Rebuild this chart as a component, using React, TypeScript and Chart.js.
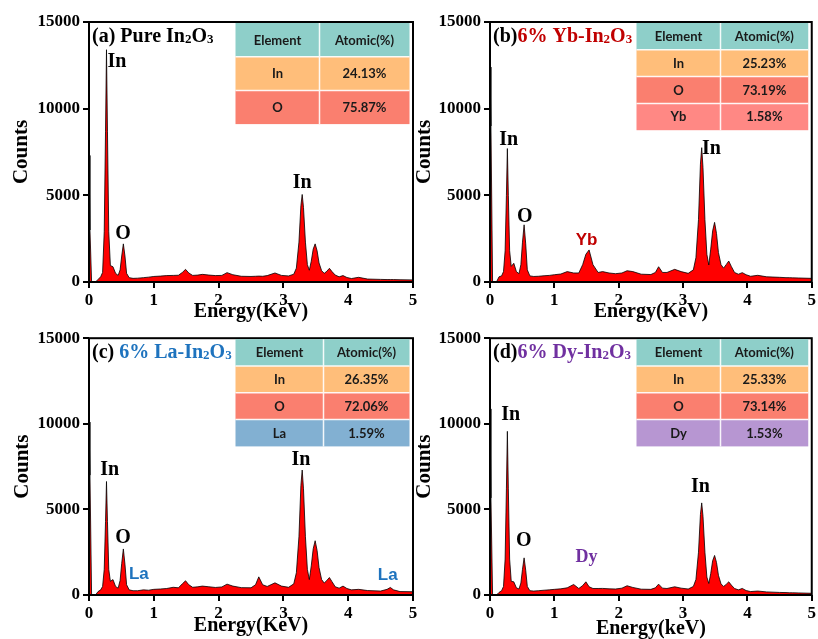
import React, { useEffect, useRef } from "react";
import { Chart, registerables } from "chart.js";
Chart.register(...registerables);

// ---------- data ----------
const energy = [
  0, 0.015, 0.04, 0.1, 0.14, 0.18, 0.21, 0.235, 0.255, 0.27,
  0.285, 0.305, 0.33, 0.37, 0.41, 0.45, 0.48, 0.505, 0.53, 0.555,
  0.58, 0.62, 0.68, 0.75, 0.84, 0.92, 1.0, 1.1, 1.2, 1.3,
  1.38, 1.44, 1.49, 1.54, 1.6, 1.68, 1.75, 1.85, 1.95, 2.05,
  2.13, 2.22, 2.35, 2.5, 2.57, 2.62, 2.68, 2.75, 2.87, 2.97,
  3.08, 3.16, 3.2, 3.24, 3.27, 3.29, 3.31, 3.34, 3.37, 3.4,
  3.43, 3.46, 3.49, 3.52, 3.55, 3.59, 3.63, 3.67, 3.71, 3.75,
  3.8, 3.86, 3.92, 3.98, 4.05, 4.16, 4.3, 4.5, 4.6, 4.65,
  4.7, 4.8, 5.0,
];

const countsPure = [
  7300, 3000, 0, 0, 150, 300, 550, 2900, 8700, 13400,
  8700, 2900, 950, 880, 500, 380, 700, 1500, 2200, 1500,
  500, 250, 210, 220, 250, 280, 320, 340, 370, 380,
  390, 550, 730, 520, 380, 400, 440, 400, 370, 380,
  540, 420, 330, 320, 330, 340, 330, 370, 520, 380,
  350, 450, 800, 2300, 4400, 5050, 4300, 2300, 1000, 680,
  1200, 1900, 2200, 1800, 1100, 650, 500, 620, 790, 600,
  400, 300, 370, 260, 200, 270, 170, 150, 140, 140,
  140, 130, 120,
];

const countsYb = [
  12400, 9000, 0, 0, 300, 350, 600, 1800, 5000, 7700,
  5000, 1800, 900, 1080, 600, 480, 1000, 2300, 3300, 2200,
  700, 350, 320, 330, 360, 380, 420, 460, 600, 520,
  520, 1000, 1600, 1850, 1000, 550, 600, 520, 480, 520,
  650, 600, 450, 430, 550, 880, 550, 550, 730, 600,
  500, 700, 1400, 3600, 6800, 7750, 6600, 3600, 1600, 980,
  1900, 2950, 3440, 2800, 1700, 1000, 800, 1000, 1210, 900,
  550, 450, 540, 420, 330, 385, 300, 270, 250, 250,
  240, 230, 210,
];

const countsLa = [
  10100, 7000, 0, 0, 200, 300, 500, 1500, 4300, 6630,
  4300, 1500, 800, 900, 500, 400, 850, 1850, 2690, 1800,
  600, 300, 250, 250, 300, 280, 330, 350, 380, 450,
  420, 650, 830, 600, 450, 480, 520, 480, 440, 470,
  635, 520, 430, 420, 600, 1060, 600, 500, 710, 520,
  450, 650, 1300, 3400, 6400, 7300, 6200, 3400, 1500, 900,
  1700, 2700, 3170, 2600, 1600, 900, 700, 850, 1020, 780,
  480, 400, 520, 380, 300, 330, 260, 230, 330, 440,
  300, 200, 190,
];

const countsDy = [
  10870, 5670, 0, 0, 150, 250, 500, 2100, 6200, 9560,
  6200, 2100, 800, 770, 420, 350, 700, 1500, 2170, 1450,
  500, 250, 230, 250, 280, 300, 330, 360, 420, 615,
  380, 550, 770, 480, 380, 380, 385, 360, 350, 400,
  540, 440, 340, 330, 420, 635, 400, 380, 480, 400,
  350, 500, 900, 2500, 4700, 5380, 4600, 2500, 1050, 670,
  1250, 2000, 2310, 1900, 1150, 650, 500, 620, 770, 580,
  380, 300, 385, 260, 200, 230, 180, 150, 140, 130,
  130, 120, 100,
];

const xTickValues = [0, 1, 2, 3, 4, 5];
const yTickValues = [0, 5000, 10000, 15000];

const tableHeader = ["Element", "Atomic(%)"];
const tablePure = [["In", "24.13%"], ["O", "75.87%"]];
const tableYb = [["In", "25.23%"], ["O", "73.19%"], ["Yb", "1.58%"]];
const tableLa = [["In", "26.35%"], ["O", "72.06%"], ["La", "1.59%"]];
const tableDy = [["In", "25.33%"], ["O", "73.14%"], ["Dy", "1.53%"]];

// ---------- styles ----------
const SERIF = '"Liberation Serif", "Times New Roman", serif';
const SANS = '"Liberation Sans", Arial, sans-serif';
const TABLE_FONT = 'Lato, "Open Sans", sans-serif';

const C_HEADER = "#8ECFC9";
const C_IN = "#FFBE7A";
const C_O = "#FA7F6F";
const C_YB = "#FF8884";
const C_LA = "#82B0D2";
const C_DY = "#B796D2";

const RED_TXT = "#C00000";
const BLUE_TXT = "#1E73BE";
const PURPLE_TXT = "#7030A0";

type Seg = { t: string; c: string; sub?: boolean };
type Label = { t: string; x: number; y: number; c: string; font: string };

const panels = [
  {
    key: "a", left: 0, top: 0, w: 430, h: 325, yW: 89, padTop: 22, padRight: 17, xH: 43,
    yTitlePad: 11.5, xTitlePad: 3, xTitle: "Energy(KeV)", counts: countsPure,
    title: [
      { t: "(a) Pure In", c: "#000" }, { t: "2", c: "#000", sub: true },
      { t: "O", c: "#000" }, { t: "3", c: "#000", sub: true },
    ] as Seg[],
    rows: tablePure, colors: [C_HEADER, C_IN, C_O], colSplit: 84,
    labels: [
      { t: "In", x: 0.43, y: 12700, c: "#000", font: SERIF },
      { t: "O", x: 0.525, y: 2770, c: "#000", font: SERIF },
      { t: "In", x: 3.29, y: 5710, c: "#000", font: SERIF },
    ] as Label[],
  },
  {
    key: "b", left: 410, top: 0, w: 408, h: 325, yW: 80, padTop: 22, padRight: 4, xH: 43,
    yTitlePad: 4.5, xTitlePad: 3, xTitle: "Energy(KeV)", counts: countsYb,
    title: [
      { t: "(b)", c: "#000" }, { t: "6% Yb-In", c: RED_TXT }, { t: "2", c: RED_TXT, sub: true },
      { t: "O", c: RED_TXT }, { t: "3", c: RED_TXT, sub: true },
    ] as Seg[],
    rows: tableYb, colors: [C_HEADER, C_IN, C_O, C_YB], colSplit: 84,
    labels: [
      { t: "In", x: 0.29, y: 8190, c: "#000", font: SERIF },
      { t: "O", x: 0.54, y: 3750, c: "#000", font: SERIF },
      { t: "Yb", x: 1.5, y: 2420, c: RED_TXT, font: SANS },
      { t: "In", x: 3.44, y: 7670, c: "#000", font: SERIF },
    ] as Label[],
  },
  {
    key: "c", left: 0, top: 325, w: 430, h: 314, yW: 89, padTop: 10, padRight: 17, xH: 44,
    yTitlePad: 12, xTitlePad: 3, xTitle: "Energy(KeV)", counts: countsLa,
    title: [
      { t: "(c) ", c: "#000" }, { t: "6% La-In", c: BLUE_TXT }, { t: "2", c: BLUE_TXT, sub: true },
      { t: "O", c: BLUE_TXT }, { t: "3", c: BLUE_TXT, sub: true },
    ] as Seg[],
    rows: tableLa, colors: [C_HEADER, C_IN, C_O, C_LA], colSplit: 88,
    labels: [
      { t: "In", x: 0.32, y: 7330, c: "#000", font: SERIF },
      { t: "O", x: 0.525, y: 3350, c: "#000", font: SERIF },
      { t: "La", x: 0.77, y: 1210, c: BLUE_TXT, font: SANS },
      { t: "In", x: 3.27, y: 7900, c: "#000", font: SERIF },
      { t: "La", x: 4.61, y: 1150, c: BLUE_TXT, font: SANS },
    ] as Label[],
  },
  {
    key: "d", left: 410, top: 325, w: 408, h: 314, yW: 80, padTop: 10, padRight: 4, xH: 44,
    yTitlePad: 4.5, xTitlePad: 0, xTitle: "Energy(keV)", counts: countsDy,
    title: [
      { t: "(d)", c: "#000" }, { t: "6% Dy-In", c: PURPLE_TXT }, { t: "2", c: PURPLE_TXT, sub: true },
      { t: "O", c: PURPLE_TXT }, { t: "3", c: PURPLE_TXT, sub: true },
    ] as Seg[],
    rows: tableDy, colors: [C_HEADER, C_IN, C_O, C_DY], colSplit: 84,
    labels: [
      { t: "In", x: 0.32, y: 10500, c: "#000", font: SERIF },
      { t: "O", x: 0.525, y: 3170, c: "#000", font: SERIF },
      { t: "Dy", x: 1.5, y: 2190, c: PURPLE_TXT, font: SERIF },
      { t: "In", x: 3.27, y: 6290, c: "#000", font: SERIF },
    ] as Label[],
  },
];

type PanelCfg = (typeof panels)[number];

function drawRich(ctx: CanvasRenderingContext2D, x: number, y: number, segs: Seg[]) {
  let cx = x;
  ctx.textAlign = "left";
  ctx.textBaseline = "alphabetic";
  for (const s of segs) {
    ctx.font = s.sub ? `bold 13px ${SERIF}` : `bold 20px ${SERIF}`;
    ctx.fillStyle = s.c;
    ctx.fillText(s.t, cx, s.sub ? y + 1 : y);
    cx += ctx.measureText(s.t).width;
  }
}

function makePlugin(p: PanelCfg) {
  return {
    id: "decor-" + p.key,
    afterDatasetsDraw(chart: any) {
      const ctx: CanvasRenderingContext2D = chart.ctx;
      const ca = chart.chartArea;
      ctx.save();
      ctx.strokeStyle = "#000";
      ctx.lineWidth = 2;
      ctx.strokeRect(ca.left, ca.top, ca.right - ca.left, ca.bottom - ca.top);
      ctx.restore();
    },
    afterDraw(chart: any) {
      const ctx: CanvasRenderingContext2D = chart.ctx;
      const ca = chart.chartArea;
      const xs = chart.scales.x;
      const ys = chart.scales.y;
      ctx.save();
      // panel title
      drawRich(ctx, ca.left + 3, ca.top + 20, p.title);
      // peak labels
      ctx.textAlign = "center";
      ctx.textBaseline = "middle";
      for (const l of p.labels) {
        ctx.font = l.font === SANS ? `bold 17px ${SANS}` : `bold ${l.t === "Dy" ? 18 : 20}px ${SERIF}`;
        ctx.fillStyle = l.c;
        ctx.fillText(l.t, xs.getPixelForValue(l.x), ys.getPixelForValue(l.y));
      }
      // table
      const rows = [tableHeader, ...p.rows];
      const left = ca.left + 146.5;
      const right = ca.right - 3.5;
      const top = ca.top + 1;
      const rowH = rows.length === 3 ? 33.7 : 26.8;
      const split = left + p.colSplit;
      rows.forEach((r, i) => {
        ctx.fillStyle = p.colors[i];
        ctx.fillRect(left, top + i * rowH, right - left, rowH);
      });
      ctx.strokeStyle = "rgba(255,255,255,0.9)";
      ctx.lineWidth = 1.5;
      ctx.beginPath();
      for (let i = 1; i < rows.length; i++) {
        ctx.moveTo(left, top + i * rowH);
        ctx.lineTo(right, top + i * rowH);
      }
      ctx.moveTo(split, top);
      ctx.lineTo(split, top + rows.length * rowH);
      ctx.stroke();
      ctx.font = `bold 13px ${TABLE_FONT}`;
      ctx.fillStyle = "#1a1a1a";
      ctx.textAlign = "center";
      ctx.textBaseline = "middle";
      rows.forEach((r, i) => {
        const cy = top + i * rowH + rowH / 2 + 0.5;
        ctx.fillText(r[0], (left + split) / 2, cy);
        ctx.fillText(r[1], (split + right) / 2, cy);
      });
      ctx.restore();
    },
  };
}

function Panel({ p }: { p: PanelCfg }) {
  const ref = useRef<HTMLCanvasElement | null>(null);
  useEffect(() => {
    if (!ref.current) return;
    const chart = new Chart(ref.current, {
      type: "line",
      data: {
        datasets: [
          {
            data: energy.map((e, i) => ({ x: e, y: p.counts[i] })),
            borderColor: "#000",
            borderWidth: 0.8,
            backgroundColor: "#FF0000",
            fill: "origin",
            pointRadius: 0,
            tension: 0,
          },
        ],
      },
      options: {
        responsive: false,
        animation: false,
        events: [],
        layout: { padding: { left: 0, top: p.padTop, right: p.padRight, bottom: 0 } },
        plugins: { legend: { display: false }, tooltip: { enabled: false } },
        scales: {
          x: {
            type: "linear",
            min: 0,
            max: 5,
            afterBuildTicks: (s: any) => {
              s.ticks = xTickValues.map((v) => ({ value: v }));
            },
            afterFit: (s: any) => {
              s.height = p.xH;
            },
            ticks: {
              maxRotation: 0,
              autoSkip: false,
              padding: 2,
              color: "#000",
              font: { family: SERIF, size: 17, weight: "bold" },
            },
            grid: { display: true, drawOnChartArea: false, drawTicks: true, tickLength: 6, color: "#000", lineWidth: 2 },
            border: { display: false },
            title: {
              display: true,
              text: p.xTitle,
              color: "#000",
              font: { family: SERIF, size: 20, weight: "bold", lineHeight: 1 },
              padding: { top: 0, bottom: p.xTitlePad },
            },
          },
          y: {
            type: "linear",
            min: 0,
            max: 15000,
            afterBuildTicks: (s: any) => {
              s.ticks = yTickValues.map((v) => ({ value: v }));
            },
            afterFit: (s: any) => {
              s.width = p.yW;
            },
            ticks: {
              padding: 3,
              color: "#000",
              font: { family: SERIF, size: 17, weight: "bold" },
              callback: (v: any) => String(v),
            },
            grid: { display: true, drawOnChartArea: false, drawTicks: true, tickLength: 6, color: "#000", lineWidth: 2 },
            border: { display: false },
            title: {
              display: true,
              text: "Counts",
              color: "#000",
              font: { family: SERIF, size: 21, weight: "bold", lineHeight: 1 },
              padding: { top: p.yTitlePad, bottom: 0 },
            },
          },
        },
      },
      plugins: [makePlugin(p)],
    } as any);
    return () => chart.destroy();
  }, [p]);
  return (
    <canvas
      ref={ref}
      width={p.w}
      height={p.h}
      style={{ position: "absolute", left: p.left, top: p.top, width: p.w, height: p.h }}
    />
  );
}

export default function App() {
  return (
    <div
      style={{
        position: "fixed",
        left: 0,
        top: 0,
        width: 818,
        height: 639,
        overflow: "hidden",
        background: "#fff",
      }}
    >
      {panels.map((p) => (
        <Panel key={p.key} p={p} />
      ))}
    </div>
  );
}
